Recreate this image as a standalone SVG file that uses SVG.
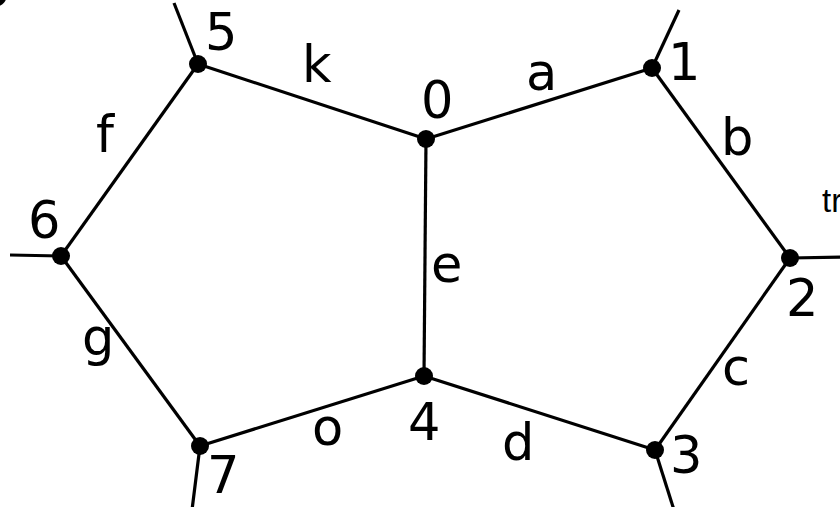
<svg xmlns="http://www.w3.org/2000/svg" width="840" height="507" viewBox="0 0 840 507">
<style>
.e{stroke:#000;stroke-width:3.2;fill:none;stroke-linecap:butt}
.n{fill:#000}
.l{font-family:"DejaVu Sans",sans-serif;font-size:51px;fill:#000}
.s{font-family:"Liberation Sans",Arial,sans-serif;font-size:33px;fill:#000}
</style>
<rect width="840" height="507" fill="#fff"/>
<text class="l" x="-21" y="6">o</text>
<g id="connectors">
<line class="e" x1="426" y1="139" x2="652" y2="68"/>
<line class="e" x1="652" y1="68" x2="790" y2="258"/>
<line class="e" x1="790" y1="258" x2="655" y2="450"/>
<line class="e" x1="655" y1="450" x2="424" y2="376"/>
<line class="e" x1="424" y1="376" x2="426" y2="139"/>
<line class="e" x1="426" y1="139" x2="198" y2="64"/>
<line class="e" x1="198" y1="64" x2="61" y2="256"/>
<line class="e" x1="61" y1="256" x2="200" y2="446"/>
<line class="e" x1="200" y1="446" x2="424" y2="376"/>
<line class="e" x1="198" y1="64" x2="174" y2="3"/>
<line class="e" x1="652" y1="68" x2="679" y2="10"/>
<line class="e" x1="790" y1="258" x2="842" y2="257"/>
<line class="e" x1="655" y1="450" x2="674" y2="510"/>
<line class="e" x1="200" y1="446" x2="192" y2="510"/>
<line class="e" x1="61" y1="256" x2="10" y2="255"/>
<text class="l" x="302" y="82">k</text>
<text class="l" x="526" y="90">a</text>
<text class="l" x="96" y="152">f</text>
<text class="l" x="721" y="155">b</text>
<text class="l" x="431" y="282">e</text>
<text class="l" x="82" y="355">g</text>
<text class="l" x="722" y="385">c</text>
<text class="l" x="312" y="445">o</text>
<text class="l" x="502" y="460">d</text>
<text class="s" x="822" y="212">tr</text>
</g>
<g id="n0"><circle class="n" cx="426" cy="139" r="9"/><text class="l" x="421" y="118">0</text></g>
<g id="n1"><circle class="n" cx="652" cy="68" r="9"/><text class="l" x="668" y="80">1</text></g>
<g id="n2"><circle class="n" cx="790" cy="258" r="9"/><text class="l" x="786" y="316">2</text></g>
<g id="n3"><circle class="n" cx="655" cy="450" r="9"/><text class="l" x="670" y="473">3</text></g>
<g id="n4"><circle class="n" cx="424" cy="376" r="9"/><text class="l" x="408" y="440">4</text></g>
<g id="n5"><circle class="n" cx="198" cy="64" r="9"/><text class="l" x="205" y="50">5</text></g>
<g id="n6"><circle class="n" cx="61" cy="256" r="9"/><text class="l" x="28" y="238">6</text></g>
<g id="n7"><circle class="n" cx="200" cy="446" r="9"/><text class="l" x="207" y="493">7</text></g>
</svg>
